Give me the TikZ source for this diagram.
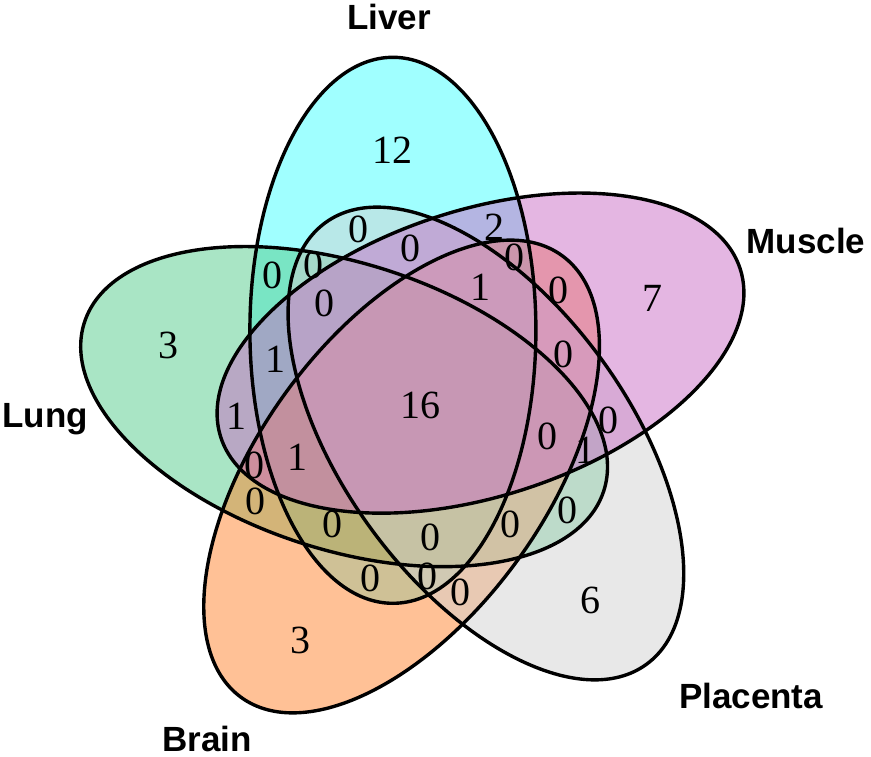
\documentclass[tikz,border=0pt]{standalone}
\usepackage{fontspec}
\setmainfont{Liberation Serif}
\newfontfamily\labfont{Liberation Sans}
\definecolor{cLiver}{RGB}{65,255,255}
\definecolor{cMuscle}{RGB}{201,109,197}
\definecolor{cLung}{RGB}{83,203,139}
\definecolor{cBrain}{RGB}{255,131,45}
\definecolor{cPlac}{RGB}{209,209,209}
\tikzset{
  setfill/.style={fill opacity=0.5},
  setline/.style={draw=black,line width=3.4pt},
  num/.style={font=\fontsize{40}{40}\selectfont,inner sep=0pt},
  lab/.style={font=\labfont\bfseries\fontsize{35}{40}\selectfont,inner sep=0pt,anchor=base}
}
\begin{document}
\begin{tikzpicture}[x=1pt,y=-1pt]
\useasboundingbox (0,0) rectangle (871,757);
% fills
\fill[setfill,cLiver,rotate around={90:(392.9,330.3)}] (392.9,330.3) ellipse (273 and 143);
\fill[setfill,cLung,rotate around={-18:(344.1,406.6)}] (344.1,406.6) ellipse (273 and 143);
\fill[setfill,cBrain,rotate around={54:(401.6,476.5)}] (401.6,476.5) ellipse (273 and 143);
\fill[setfill,cPlac,rotate around={-54:(485.9,443.5)}] (485.9,443.5) ellipse (273 and 143);
\fill[setfill,cMuscle,rotate around={18:(480.5,353.1)}] (480.5,353.1) ellipse (273 and 143);
% outlines
\draw[setline,rotate around={90:(392.9,330.3)}] (392.9,330.3) ellipse (273 and 143);
\draw[setline,rotate around={-18:(344.1,406.6)}] (344.1,406.6) ellipse (273 and 143);
\draw[setline,rotate around={54:(401.6,476.5)}] (401.6,476.5) ellipse (273 and 143);
\draw[setline,rotate around={-54:(485.9,443.5)}] (485.9,443.5) ellipse (273 and 143);
\draw[setline,rotate around={18:(480.5,353.1)}] (480.5,353.1) ellipse (273 and 143);
% labels
\node[lab] (lLiver) at (389,30) {Liver};
\node[lab] (lMuscle) at (806,254) {Muscle};
\node[lab] (lLung) at (45,427) {Lung};
\node[lab] (lBrain) at (207,751) {Brain};
\node[lab] (lPlac) at (751,708) {Placenta};
% counts
\node[num] (n1) at (392,150) {12};
\node[num] (n2) at (358,229) {0};
\node[num] (n3) at (494,227) {2};
\node[num] (n4) at (410,248) {0};
\node[num] (n5) at (272,275) {0};
\node[num] (n6) at (313,265) {0};
\node[num] (n7) at (514,257) {0};
\node[num] (n8) at (480,287) {1};
\node[num] (n9) at (558,290) {0};
\node[num] (n10) at (324,303) {0};
\node[num] (n11) at (652,298) {7};
\node[num] (n12) at (168,345) {3};
\node[num] (n13) at (275,359) {1};
\node[num] (n14) at (563,354) {0};
\node[num] (n15) at (420,405) {16};
\node[num] (n16) at (236,416) {1};
\node[num] (n17) at (608,420) {0};
\node[num] (n18) at (547,436) {0};
\node[num] (n19) at (585,450) {1};
\node[num] (n20) at (254,465) {0};
\node[num] (n21) at (297,457) {1};
\node[num] (n22) at (255,501) {0};
\node[num] (n23) at (332,524) {0};
\node[num] (n24) at (430,537) {0};
\node[num] (n25) at (510,524) {0};
\node[num] (n26) at (567,510) {0};
\node[num] (n27) at (370,578) {0};
\node[num] (n28) at (427,576) {0};
\node[num] (n29) at (460,592) {0};
\node[num] (n30) at (590,600) {6};
\node[num] (n31) at (300,640) {3};
\end{tikzpicture}
\end{document}
